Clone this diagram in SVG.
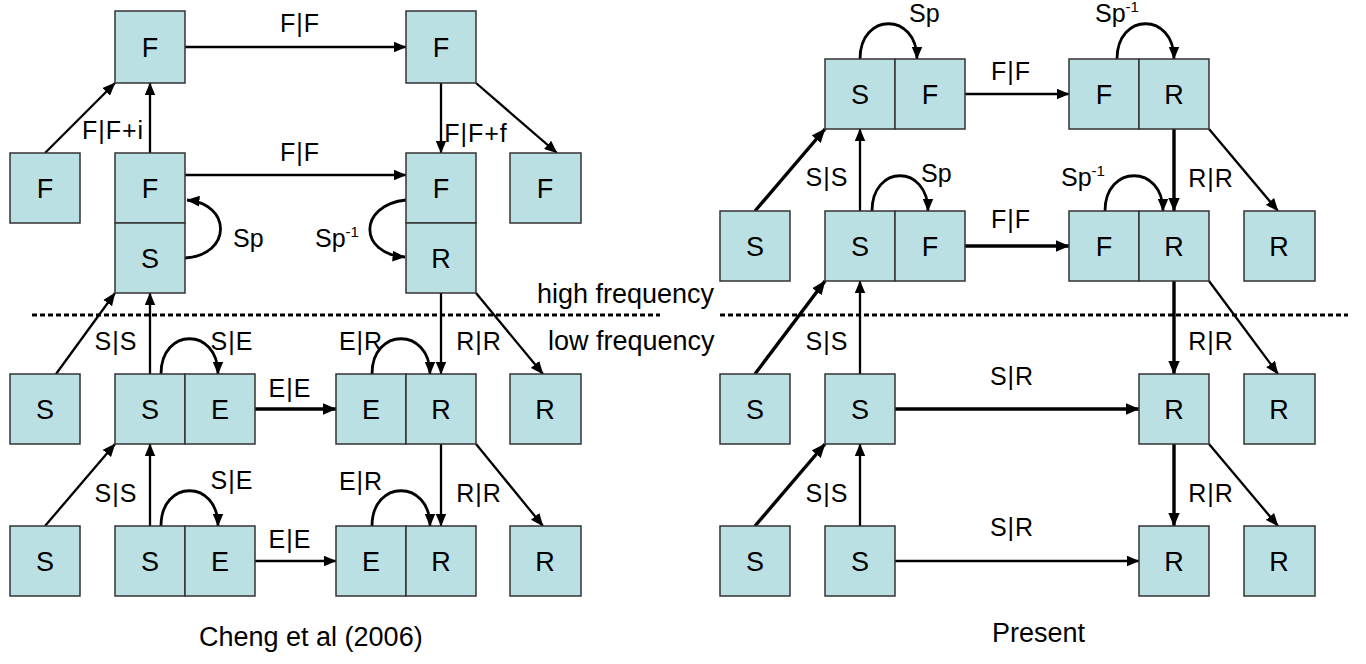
<svg xmlns="http://www.w3.org/2000/svg" width="1366" height="664" viewBox="0 0 1366 664">
<style>
.bx{fill:#BBE0E3;stroke:#333;stroke-width:1.5}
.bt{font-family:"Liberation Sans",Arial,sans-serif;font-size:27px;fill:#000;text-anchor:middle}
.lb{font-family:"Liberation Sans",Arial,sans-serif;font-size:25px;fill:#000;text-anchor:middle;letter-spacing:1px}
.ls{font-family:"Liberation Sans",Arial,sans-serif;font-size:25px;fill:#000}
.cap{font-family:"Liberation Sans",Arial,sans-serif;font-size:27px;fill:#000}
.c{fill:none;stroke:#000;stroke-width:2.3;marker-end:url(#arr)}
.lp{fill:none;stroke:#000;stroke-width:2.8;marker-end:url(#arr)}
.t{fill:none;stroke:#000;stroke-width:3.4;marker-end:url(#arrB)}
.dash{fill:none;stroke:#000;stroke-width:3;stroke-dasharray:5 3}
</style>
<defs>
<marker id="arr" viewBox="0 0 12 10" markerWidth="13" markerHeight="11" refX="11.5" refY="5" orient="auto" markerUnits="userSpaceOnUse"><path d="M0,0 L12,5 L0,10 z" fill="#000"/></marker>
<marker id="arrB" viewBox="0 0 12 10" markerWidth="14" markerHeight="12" refX="11.5" refY="5" orient="auto" markerUnits="userSpaceOnUse"><path d="M0,0 L12,5 L0,10 z" fill="#000"/></marker>
</defs>
<rect width="1366" height="664" fill="#fff"/>

<g id="separators">
<line class="dash" x1="32" y1="315" x2="660" y2="315"/>
<line class="dash" x1="720" y1="315" x2="1348" y2="315"/>
</g>

<g id="connectors">
<line class="c" x1="185" y1="47" x2="406" y2="47"/>
<line class="c" x1="45" y1="153" x2="115" y2="83"/>
<line class="c" x1="150" y1="153" x2="150" y2="83"/>
<line class="c" x1="185" y1="175" x2="406" y2="175"/>
<path class="lp" d="M185,258 C232,255 232,204 187,200"/>
<line class="c" x1="441" y1="83" x2="441" y2="153"/>
<line class="c" x1="476" y1="83" x2="557" y2="153"/>
<path class="lp" d="M406,200 C358,205 358,254 405,257"/>
<line class="c" x1="56" y1="374" x2="115" y2="293"/>
<line class="c" x1="150" y1="374" x2="150" y2="293"/>
<path class="lp" d="M161,374 C161,327 218,327 218,374"/>
<line class="t" x1="255" y1="409" x2="336" y2="409"/>
<line class="c" x1="441" y1="293" x2="441" y2="374"/>
<line class="c" x1="476" y1="293" x2="543" y2="374"/>
<path class="lp" d="M372,374 C372,327 430,327 430,374"/>
<line class="c" x1="45" y1="526" x2="115" y2="444"/>
<line class="c" x1="150" y1="526" x2="150" y2="444"/>
<path class="lp" d="M161,526 C161,479 218,479 218,526"/>
<line class="c" x1="255" y1="561" x2="336" y2="561"/>
<line class="c" x1="441" y1="444" x2="441" y2="526"/>
<line class="c" x1="476" y1="444" x2="543" y2="526"/>
<path class="lp" d="M372,526 C372,479 430,479 430,526"/>
<path class="lp" d="M860,59 C860,12 917,12 917,59"/>
<line class="c" x1="965" y1="94" x2="1069" y2="94"/>
<path class="lp" d="M1117,59 C1117,12 1174,12 1174,59"/>
<line class="t" x1="755" y1="211" x2="825" y2="129"/>
<line class="c" x1="860" y1="211" x2="860" y2="129"/>
<path class="lp" d="M872,211 C872,164 928,164 928,211"/>
<line class="t" x1="965" y1="246" x2="1069" y2="246"/>
<path class="lp" d="M1105,211 C1105,164 1163,164 1163,211"/>
<line class="t" x1="1174" y1="129" x2="1174" y2="211"/>
<line class="c" x1="1209" y1="129" x2="1278" y2="211"/>
<line class="t" x1="755" y1="374" x2="825" y2="281"/>
<line class="c" x1="860" y1="374" x2="860" y2="281"/>
<line class="t" x1="895" y1="409" x2="1139" y2="409"/>
<line class="t" x1="1174" y1="281" x2="1174" y2="374"/>
<line class="c" x1="1209" y1="281" x2="1278" y2="374"/>
<line class="t" x1="755" y1="526" x2="825" y2="444"/>
<line class="c" x1="860" y1="526" x2="860" y2="444"/>
<line class="c" x1="895" y1="561" x2="1139" y2="561"/>
<line class="t" x1="1174" y1="444" x2="1174" y2="526"/>
<line class="c" x1="1209" y1="444" x2="1278" y2="526"/>
</g>

<g id="labels">
<text class="lb" x="300" y="32">F|F</text>
<text class="lb" x="300" y="161">F|F</text>
<text class="lb" x="113" y="139">F|F+i</text>
<text class="lb" x="476" y="142">F|F+f</text>
<text class="ls" x="233" y="247">Sp</text>
<text class="ls" x="315" y="247">Sp<tspan font-size="15" dy="-10">-1</tspan></text>
<text class="lb" x="116" y="350">S|S</text>
<text class="lb" x="232" y="350">S|E</text>
<text class="lb" x="290" y="397">E|E</text>
<text class="lb" x="361" y="350">E|R</text>
<text class="lb" x="479" y="350">R|R</text>
<text class="lb" x="116" y="502">S|S</text>
<text class="lb" x="232" y="489">S|E</text>
<text class="lb" x="290" y="548">E|E</text>
<text class="lb" x="361" y="490">E|R</text>
<text class="lb" x="479" y="502">R|R</text>
<text class="cap" x="537" y="303">high frequency</text>
<text class="cap" x="548" y="350">low frequency</text>
<text class="cap" x="199" y="646">Cheng et al (2006)</text>
<text class="cap" x="992" y="642">Present</text>
<text class="ls" x="909" y="22">Sp</text>
<text class="lb" x="1011" y="80">F|F</text>
<text class="ls" x="1095" y="22">Sp<tspan font-size="15" dy="-10">-1</tspan></text>
<text class="lb" x="827" y="186">S|S</text>
<text class="ls" x="921" y="182">Sp</text>
<text class="lb" x="1011" y="228">F|F</text>
<text class="ls" x="1061" y="186">Sp<tspan font-size="15" dy="-10">-1</tspan></text>
<text class="lb" x="1211" y="187">R|R</text>
<text class="lb" x="827" y="350">S|S</text>
<text class="lb" x="1012" y="385">S|R</text>
<text class="lb" x="1211" y="350">R|R</text>
<text class="lb" x="827" y="502">S|S</text>
<text class="lb" x="1012" y="536">S|R</text>
<text class="lb" x="1211" y="502">R|R</text>
</g>

<g id="L-F-top"><rect class="bx" x="115" y="11" width="70" height="72"/><text class="bt" x="150" y="57">F</text></g>
<g id="L-F-topright"><rect class="bx" x="406" y="11" width="70" height="72"/><text class="bt" x="441" y="57">F</text></g>
<g id="L-F-left"><rect class="bx" x="10" y="153" width="70" height="70"/><text class="bt" x="45" y="198">F</text></g>
<g id="L-FS"><rect class="bx" x="115" y="153" width="70" height="70"/><rect class="bx" x="115" y="223" width="70" height="70"/><text class="bt" x="150" y="198">F</text><text class="bt" x="150" y="268">S</text></g>
<g id="L-FR"><rect class="bx" x="406" y="153" width="70" height="70"/><rect class="bx" x="406" y="223" width="70" height="70"/><text class="bt" x="441" y="198">F</text><text class="bt" x="441" y="268">R</text></g>
<g id="L-F-right"><rect class="bx" x="510" y="153" width="71" height="70"/><text class="bt" x="545" y="198">F</text></g>
<g id="L-S-r3"><rect class="bx" x="10" y="374" width="70" height="70"/><text class="bt" x="45" y="419">S</text></g>
<g id="L-SE-r3"><rect class="bx" x="115" y="374" width="70" height="70"/><rect class="bx" x="185" y="374" width="70" height="70"/><text class="bt" x="150" y="419">S</text><text class="bt" x="220" y="419">E</text></g>
<g id="L-ER-r3"><rect class="bx" x="336" y="374" width="70" height="70"/><rect class="bx" x="406" y="374" width="70" height="70"/><text class="bt" x="371" y="419">E</text><text class="bt" x="441" y="419">R</text></g>
<g id="L-R-r3"><rect class="bx" x="510" y="374" width="71" height="70"/><text class="bt" x="545" y="419">R</text></g>
<g id="L-S-r4"><rect class="bx" x="10" y="526" width="70" height="70"/><text class="bt" x="45" y="571">S</text></g>
<g id="L-SE-r4"><rect class="bx" x="115" y="526" width="70" height="70"/><rect class="bx" x="185" y="526" width="70" height="70"/><text class="bt" x="150" y="571">S</text><text class="bt" x="220" y="571">E</text></g>
<g id="L-ER-r4"><rect class="bx" x="336" y="526" width="70" height="70"/><rect class="bx" x="406" y="526" width="70" height="70"/><text class="bt" x="371" y="571">E</text><text class="bt" x="441" y="571">R</text></g>
<g id="L-R-r4"><rect class="bx" x="510" y="526" width="71" height="70"/><text class="bt" x="545" y="571">R</text></g>

<g id="R-SF-r1"><rect class="bx" x="825" y="59" width="70" height="70"/><rect class="bx" x="895" y="59" width="70" height="70"/><text class="bt" x="860" y="104">S</text><text class="bt" x="930" y="104">F</text></g>
<g id="R-FR-r1"><rect class="bx" x="1069" y="59" width="70" height="70"/><rect class="bx" x="1139" y="59" width="70" height="70"/><text class="bt" x="1104" y="104">F</text><text class="bt" x="1174" y="104">R</text></g>
<g id="R-S-r2"><rect class="bx" x="720" y="211" width="70" height="70"/><text class="bt" x="755" y="256">S</text></g>
<g id="R-SF-r2"><rect class="bx" x="825" y="211" width="70" height="70"/><rect class="bx" x="895" y="211" width="70" height="70"/><text class="bt" x="860" y="256">S</text><text class="bt" x="930" y="256">F</text></g>
<g id="R-FR-r2"><rect class="bx" x="1069" y="211" width="70" height="70"/><rect class="bx" x="1139" y="211" width="70" height="70"/><text class="bt" x="1104" y="256">F</text><text class="bt" x="1174" y="256">R</text></g>
<g id="R-R-r2"><rect class="bx" x="1244" y="211" width="71" height="70"/><text class="bt" x="1279" y="256">R</text></g>
<g id="R-S-r3a"><rect class="bx" x="720" y="374" width="70" height="70"/><text class="bt" x="755" y="419">S</text></g>
<g id="R-S-r3b"><rect class="bx" x="825" y="374" width="70" height="70"/><text class="bt" x="860" y="419">S</text></g>
<g id="R-R-r3a"><rect class="bx" x="1139" y="374" width="70" height="70"/><text class="bt" x="1174" y="419">R</text></g>
<g id="R-R-r3b"><rect class="bx" x="1244" y="374" width="71" height="70"/><text class="bt" x="1279" y="419">R</text></g>
<g id="R-S-r4a"><rect class="bx" x="720" y="526" width="70" height="70"/><text class="bt" x="755" y="571">S</text></g>
<g id="R-S-r4b"><rect class="bx" x="825" y="526" width="70" height="70"/><text class="bt" x="860" y="571">S</text></g>
<g id="R-R-r4a"><rect class="bx" x="1139" y="526" width="70" height="70"/><text class="bt" x="1174" y="571">R</text></g>
<g id="R-R-r4b"><rect class="bx" x="1244" y="526" width="71" height="70"/><text class="bt" x="1279" y="571">R</text></g>
</svg>
